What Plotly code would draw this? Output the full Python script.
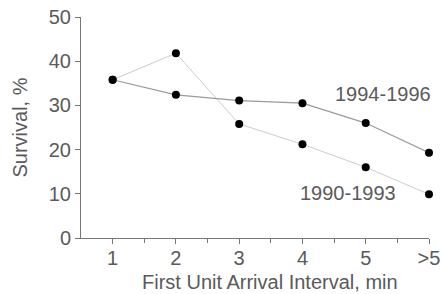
import plotly.graph_objects as go

categories = ["1", "2", "3", "4", "5", ">5"]
survival_1994_1996 = [35.8, 32.4, 31.1, 30.5, 26.0, 19.3]
survival_1990_1993 = [35.8, 41.8, 25.8, 21.2, 16.0, 9.9]
y_ticks = [0, 10, 20, 30, 40, 50]

xpos = list(range(1, len(categories) + 1))

fig = go.Figure()
fig.add_trace(go.Scatter(
    x=xpos, y=survival_1990_1993, mode="lines+markers",
    line=dict(color="#cccccc", width=1),
    marker=dict(color="black", size=8),
    name="1990-1993", showlegend=False, cliponaxis=False))
fig.add_trace(go.Scatter(
    x=xpos, y=survival_1994_1996, mode="lines+markers",
    line=dict(color="#9a9a9a", width=1.2),
    marker=dict(color="black", size=8),
    name="1994-1996", showlegend=False, cliponaxis=False))

font_family = "Liberation Sans, Arial, sans-serif"
txt = "#5a5a5a"
fs = 20

fig.add_annotation(x=5.28, y=32.6, text="1994-1996", showarrow=False,
                   font=dict(family=font_family, size=fs, color=txt))
fig.add_annotation(x=4.72, y=10.2, text="1990-1993", showarrow=False,
                   font=dict(family=font_family, size=fs, color=txt))
# x-axis title (offset right of center as in the reference)
fig.add_annotation(x=0.543, y=-0.2, xref="paper", yref="paper",
                   xanchor="center", yanchor="middle",
                   text="First Unit Arrival Interval, min", showarrow=False,
                   font=dict(family=font_family, size=fs, color=txt))

fig.update_layout(
    width=441, height=294,
    margin=dict(l=81, r=12, t=17, b=56),
    paper_bgcolor="white", plot_bgcolor="white",
    font=dict(family=font_family, size=fs, color=txt),
    xaxis=dict(
        range=[0.5, 6], tickvals=xpos, ticktext=categories,
        automargin=False,
        showgrid=False, zeroline=False, showline=True,
        linecolor="#777777", linewidth=1,
        ticks="outside", ticklen=5, tickcolor="#777777",
        ticklabelstandoff=-3,
        minor=dict(tickvals=[1.5, 2.5, 3.5, 4.5, 5.5], ticks="outside",
                   ticklen=4, tickcolor="#777777"),
        tickfont=dict(size=fs, color=txt),
    ),
    yaxis=dict(
        range=[0, 50], tickvals=y_ticks,
        automargin=False,
        showgrid=False, zeroline=False, showline=True,
        linecolor="#777777", linewidth=1,
        ticks="outside", ticklen=5, tickcolor="#777777",
        title=dict(text="Survival, %", standoff=15,
                   font=dict(size=fs, color=txt)),
        tickfont=dict(size=fs, color=txt),
    ),
)

fig.write_html("out.html", config={"displayModeBar": False},
               post_script="document.body.style.margin='0';")
